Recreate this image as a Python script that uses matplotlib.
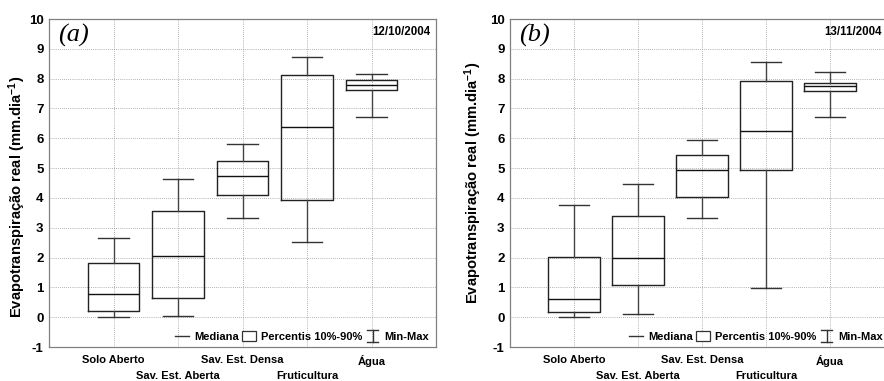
import matplotlib
matplotlib.use("Agg")
import matplotlib.pyplot as plt
from matplotlib.lines import Line2D
from matplotlib.patches import Patch
from matplotlib.legend_handler import HandlerBase

plt.rcParams['font.family'] = ['Liberation Sans', 'DejaVu Sans']
plt.rcParams['font.weight'] = 'bold'
plt.rcParams['mathtext.fontset'] = 'custom'
plt.rcParams['mathtext.rm'] = 'Liberation Sans:bold'
plt.rcParams['mathtext.bf'] = 'Liberation Sans:bold'
plt.rcParams['mathtext.it'] = 'Liberation Sans:bold'

categories = ["Solo Aberto", "Sav. Est. Aberta", "Sav. Est. Densa", "Fruticultura", "Água"]

# Panel (a) 12/10/2004
a_min = [0.00, 0.03, 3.32, 2.53, 6.72]
a_p10 = [0.21, 0.65, 4.10, 3.93, 7.61]
a_med = [0.79, 2.05, 4.74, 6.37, 7.78]
a_p90 = [1.81, 3.55, 5.23, 8.12, 7.97]
a_max = [2.66, 4.62, 5.81, 8.72, 8.16]

# Panel (b) 13/11/2004
b_min = [0.01, 0.12, 3.33, 0.98, 6.72]
b_p10 = [0.17, 1.08, 4.04, 4.92, 7.59]
b_med = [0.61, 1.97, 4.95, 6.25, 7.75]
b_p90 = [2.02, 3.39, 5.45, 7.91, 7.87]
b_max = [3.77, 4.47, 5.93, 8.55, 8.23]

panel_labels = ["(a)", "(b)"]
dates = ["12/10/2004", "13/11/2004"]
yticks = list(range(-1, 11))
ylabel = r"Evapotranspiração real (mm.dia$^{-1}$)"
legend_labels = ["Mediana", "Percentis 10%-90%", "Min-Max"]


class MinMaxHandle:
    pass


class HandlerMinMax(HandlerBase):
    def create_artists(self, legend, orig_handle, xdescent, ydescent,
                       width, height, fontsize, trans):
        cx = width / 2 - xdescent
        top = height * 1.1 - ydescent
        bot = -height * 0.05 - ydescent
        hw = width * 0.4
        arts = [Line2D([cx, cx], [bot, top]),
                Line2D([cx - hw, cx + hw], [top, top]),
                Line2D([cx - hw, cx + hw], [bot, bot])]
        for a in arts:
            a.set_color('#333333')
            a.set_linewidth(1.0)
            a.set_transform(trans)
        return arts


fig = plt.figure(figsize=(8.84, 3.81), dpi=100)
W, H = 884, 381
ax_h = 328

# left px, width px, data, ylabel (right-edge offset px, y frac), legend right px, date right px
panels = [
    (49, 387, (a_min, a_p10, a_med, a_p90, a_max), (-21, 0.457), 429, 430),
    (510, 384, (b_min, b_p10, b_med, b_p90, b_max), (-26, 0.5), 883, 882),
]
for i, (left, ax_w, data, ylab_pos, leg_right, date_right) in enumerate(panels):
    ax = fig.add_axes([left / W, 1 - 347 / H, ax_w / W, ax_h / H])
    mn, p10, med, p90, mx = data
    stats = []
    for k in range(len(categories)):
        stats.append(dict(med=med[k], q1=p10[k], q3=p90[k],
                          whislo=mn[k], whishi=mx[k], fliers=[]))
    positions = list(range(1, len(categories) + 1))
    ax.bxp(stats, positions=positions, widths=0.8, capwidths=0.48,
           showfliers=False,
           boxprops=dict(color='#222222', linewidth=1.0),
           whiskerprops=dict(color='#444444', linewidth=1.0),
           capprops=dict(color='#333333', linewidth=1.0),
           medianprops=dict(color='#111111', linewidth=1.0))
    ax.set_xlim(0, 6)
    ax.set_ylim(-1, 10)
    ax.set_yticks(yticks)
    ax.set_yticklabels([str(t) for t in yticks], fontsize=9.5, fontweight='bold')
    ax.set_xticks(positions)
    ax.set_xticklabels(categories, fontsize=8, fontweight='bold')
    for j, t in enumerate(ax.xaxis.get_major_ticks()):
        t.set_pad(6 if j % 2 == 0 else 17)
    ax.tick_params(axis='both', length=0)
    ax.tick_params(axis='y', pad=4)
    ax.grid(True, linestyle=(0, (1, 1.5)), color='#999999', linewidth=0.6)
    ax.set_axisbelow(True)
    for s in ax.spines.values():
        s.set_color('#808080')
        s.set_linewidth(0.9)
    ax.set_ylabel(ylabel, fontsize=10.6, fontweight='bold')
    ax.yaxis.set_label_coords(ylab_pos[0] / ax_w, ylab_pos[1])
    ax.text(9 / ax_w, 1 - 5 / ax_h, panel_labels[i], transform=ax.transAxes,
            fontsize=19, fontstyle='italic', fontweight='normal',
            family='Liberation Serif', va='top', ha='left')
    ax.text((date_right - left) / ax_w, 1 - 13 / ax_h, dates[i], transform=ax.transAxes,
            fontsize=8.3, fontweight='bold', va='center', ha='right')
    handles = [Line2D([], [], color='#333333', linewidth=1.0),
               Patch(facecolor='white', edgecolor='#333333', linewidth=0.9),
               MinMaxHandle()]
    ax.legend(handles, legend_labels, ncol=3, loc='lower right',
              bbox_to_anchor=((leg_right - left) / ax_w, 5 / ax_h),
              frameon=False, prop=dict(size=8, weight='bold'),
              handlelength=1.3, handleheight=1.0, handletextpad=0.4,
              columnspacing=0.3, borderpad=0.0, borderaxespad=0.0,
              handler_map={MinMaxHandle: HandlerMinMax()})

fig.savefig("out.png", dpi=100)
